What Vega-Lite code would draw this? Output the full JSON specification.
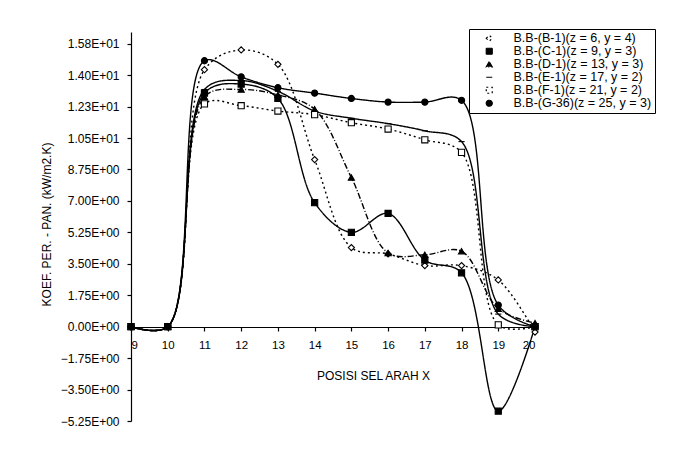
{
  "$schema": "https://vega.github.io/schema/vega-lite/v6.json",
  "width": 404,
  "height": 389,
  "autosize": {"type": "none"},
  "padding": {"left": 131, "top": 32, "right": 149, "bottom": 29},
  "background": "white",
  "config": {
    "font": "Liberation Sans",
    "view": {"stroke": null},
    "axis": {"domainColor": "black", "tickColor": "black", "labelColor": "black", "titleColor": "black", "grid": false, "domainWidth": 1.2, "tickWidth": 1.2, "titleFontWeight": "normal"},
    "legend": {"orient": "none", "legendX": 338, "legendY": -3, "padding": 3, "strokeColor": "black", "fillColor": "white", "labelFontSize": 12.5, "labelColor": "black", "symbolSize": 36, "symbolOffset": 11, "labelOffset": 18, "rowPadding": 0, "symbolStrokeColor": "black", "symbolStrokeWidth": 1.2, "labelLimit": 300}
  },
  "data": {"values": [
    {"s": "B.B-(B-1)(z = 6, y = 4)", "x": 9, "y": 0},
    {"s": "B.B-(B-1)(z = 6, y = 4)", "x": 10, "y": 0},
    {"s": "B.B-(B-1)(z = 6, y = 4)", "x": 11, "y": 14.3},
    {"s": "B.B-(B-1)(z = 6, y = 4)", "x": 12, "y": 15.4},
    {"s": "B.B-(B-1)(z = 6, y = 4)", "x": 13, "y": 14.6},
    {"s": "B.B-(B-1)(z = 6, y = 4)", "x": 14, "y": 9.3},
    {"s": "B.B-(B-1)(z = 6, y = 4)", "x": 15, "y": 4.4},
    {"s": "B.B-(B-1)(z = 6, y = 4)", "x": 16, "y": 4.05},
    {"s": "B.B-(B-1)(z = 6, y = 4)", "x": 17, "y": 3.4},
    {"s": "B.B-(B-1)(z = 6, y = 4)", "x": 18, "y": 3.4},
    {"s": "B.B-(B-1)(z = 6, y = 4)", "x": 19, "y": 2.6},
    {"s": "B.B-(B-1)(z = 6, y = 4)", "x": 20, "y": -0.3},
    {"s": "B.B-(C-1)(z = 9, y = 3)", "x": 9, "y": 0},
    {"s": "B.B-(C-1)(z = 9, y = 3)", "x": 10, "y": 0},
    {"s": "B.B-(C-1)(z = 9, y = 3)", "x": 11, "y": 13.0},
    {"s": "B.B-(C-1)(z = 9, y = 3)", "x": 12, "y": 13.5},
    {"s": "B.B-(C-1)(z = 9, y = 3)", "x": 13, "y": 12.7},
    {"s": "B.B-(C-1)(z = 9, y = 3)", "x": 14, "y": 6.9},
    {"s": "B.B-(C-1)(z = 9, y = 3)", "x": 15, "y": 5.25},
    {"s": "B.B-(C-1)(z = 9, y = 3)", "x": 16, "y": 6.3},
    {"s": "B.B-(C-1)(z = 9, y = 3)", "x": 17, "y": 3.7},
    {"s": "B.B-(C-1)(z = 9, y = 3)", "x": 18, "y": 3.0},
    {"s": "B.B-(C-1)(z = 9, y = 3)", "x": 19, "y": -4.7},
    {"s": "B.B-(C-1)(z = 9, y = 3)", "x": 20, "y": 0},
    {"s": "B.B-(D-1)(z = 13, y = 3)", "x": 9, "y": 0},
    {"s": "B.B-(D-1)(z = 13, y = 3)", "x": 10, "y": 0},
    {"s": "B.B-(D-1)(z = 13, y = 3)", "x": 11, "y": 12.8},
    {"s": "B.B-(D-1)(z = 13, y = 3)", "x": 12, "y": 13.2},
    {"s": "B.B-(D-1)(z = 13, y = 3)", "x": 13, "y": 12.9},
    {"s": "B.B-(D-1)(z = 13, y = 3)", "x": 14, "y": 12.1},
    {"s": "B.B-(D-1)(z = 13, y = 3)", "x": 15, "y": 8.3},
    {"s": "B.B-(D-1)(z = 13, y = 3)", "x": 16, "y": 4.1},
    {"s": "B.B-(D-1)(z = 13, y = 3)", "x": 17, "y": 4.0},
    {"s": "B.B-(D-1)(z = 13, y = 3)", "x": 18, "y": 4.2},
    {"s": "B.B-(D-1)(z = 13, y = 3)", "x": 19, "y": 1.0},
    {"s": "B.B-(D-1)(z = 13, y = 3)", "x": 20, "y": 0.2},
    {"s": "B.B-(E-1)(z = 17, y = 2)", "x": 9, "y": 0},
    {"s": "B.B-(E-1)(z = 17, y = 2)", "x": 10, "y": 0},
    {"s": "B.B-(E-1)(z = 17, y = 2)", "x": 11, "y": 13.2},
    {"s": "B.B-(E-1)(z = 17, y = 2)", "x": 12, "y": 13.7},
    {"s": "B.B-(E-1)(z = 17, y = 2)", "x": 13, "y": 13.1},
    {"s": "B.B-(E-1)(z = 17, y = 2)", "x": 14, "y": 12.0},
    {"s": "B.B-(E-1)(z = 17, y = 2)", "x": 15, "y": 11.6},
    {"s": "B.B-(E-1)(z = 17, y = 2)", "x": 16, "y": 11.3},
    {"s": "B.B-(E-1)(z = 17, y = 2)", "x": 17, "y": 10.9},
    {"s": "B.B-(E-1)(z = 17, y = 2)", "x": 18, "y": 10.3},
    {"s": "B.B-(E-1)(z = 17, y = 2)", "x": 19, "y": 0.7},
    {"s": "B.B-(E-1)(z = 17, y = 2)", "x": 20, "y": 0},
    {"s": "B.B-(F-1)(z = 21, y = 2)", "x": 9, "y": 0},
    {"s": "B.B-(F-1)(z = 21, y = 2)", "x": 10, "y": 0},
    {"s": "B.B-(F-1)(z = 21, y = 2)", "x": 11, "y": 12.4},
    {"s": "B.B-(F-1)(z = 21, y = 2)", "x": 12, "y": 12.3},
    {"s": "B.B-(F-1)(z = 21, y = 2)", "x": 13, "y": 12.0},
    {"s": "B.B-(F-1)(z = 21, y = 2)", "x": 14, "y": 11.8},
    {"s": "B.B-(F-1)(z = 21, y = 2)", "x": 15, "y": 11.35},
    {"s": "B.B-(F-1)(z = 21, y = 2)", "x": 16, "y": 11.0},
    {"s": "B.B-(F-1)(z = 21, y = 2)", "x": 17, "y": 10.4},
    {"s": "B.B-(F-1)(z = 21, y = 2)", "x": 18, "y": 9.7},
    {"s": "B.B-(F-1)(z = 21, y = 2)", "x": 19, "y": 0.1},
    {"s": "B.B-(F-1)(z = 21, y = 2)", "x": 20, "y": 0},
    {"s": "B.B-(G-36)(z = 25, y = 3)", "x": 9, "y": 0},
    {"s": "B.B-(G-36)(z = 25, y = 3)", "x": 10, "y": 0},
    {"s": "B.B-(G-36)(z = 25, y = 3)", "x": 11, "y": 14.8},
    {"s": "B.B-(G-36)(z = 25, y = 3)", "x": 12, "y": 13.9},
    {"s": "B.B-(G-36)(z = 25, y = 3)", "x": 13, "y": 13.3},
    {"s": "B.B-(G-36)(z = 25, y = 3)", "x": 14, "y": 13.0},
    {"s": "B.B-(G-36)(z = 25, y = 3)", "x": 15, "y": 12.7},
    {"s": "B.B-(G-36)(z = 25, y = 3)", "x": 16, "y": 12.5},
    {"s": "B.B-(G-36)(z = 25, y = 3)", "x": 17, "y": 12.5},
    {"s": "B.B-(G-36)(z = 25, y = 3)", "x": 18, "y": 12.6},
    {"s": "B.B-(G-36)(z = 25, y = 3)", "x": 19, "y": 1.2},
    {"s": "B.B-(G-36)(z = 25, y = 3)", "x": 20, "y": 0}
  ]},
  "encoding": {
    "x": {"field": "x", "type": "quantitative",
      "scale": {"domain": [9, 20], "nice": false, "zero": false},
      "axis": {"values": [9, 10, 11, 12, 13, 14, 15, 16, 17, 18, 19, 20], "format": "d", "offset": -94, "tickSize": 4, "labelPadding": 8, "labelFontSize": 11.5, "title": "POSISI SEL ARAH X", "titleFontSize": 12, "titleX": 242, "titleY": 48, "titleAlign": "center", "titleBaseline": "middle"}},
    "y": {"field": "y", "type": "quantitative",
      "scale": {"domain": [-5.25, 16.4], "nice": false, "zero": false},
      "axis": {"values": [-5.25, -3.5, -1.75, 0, 1.75, 3.5, 5.25, 7, 8.75, 10.5, 12.25, 14, 15.75],
        "labelExpr": "datum.value == 0 ? '0.00E+00' : format(datum.value / pow(10, floor(log(abs(datum.value)) / LN10)) + 1e-9, '.2f') + 'E' + (floor(log(abs(datum.value)) / LN10) < 0 ? '-' : '+') + '0' + abs(floor(log(abs(datum.value)) / LN10))",
        "tickSize": 4, "labelPadding": 8, "labelFontSize": 12, "title": "KOEF. PER. - PAN.  (kW/m2.K)", "titleFontSize": 12, "titleX": -85, "titleY": 192, "titleAngle": -90, "titleAlign": "center", "titleBaseline": "middle"}}
  },
  "layer": [
    {
      "mark": {"type": "line", "interpolate": "catmull-rom", "strokeWidth": 1.4, "color": "black"},
      "encoding": {
        "strokeDash": {"field": "s", "type": "nominal",
          "scale": {"domain": ["B.B-(B-1)(z = 6, y = 4)", "B.B-(C-1)(z = 9, y = 3)", "B.B-(D-1)(z = 13, y = 3)", "B.B-(E-1)(z = 17, y = 2)", "B.B-(F-1)(z = 21, y = 2)", "B.B-(G-36)(z = 25, y = 3)"],
            "range": [[2, 3], [1, 0], [6, 2, 1, 2], [1, 0], [2, 3], [1, 0]]},
          "legend": {"title": null, "encode": {"symbols": {"update": {"shape": {"signal": "'circle'"}}}}}
        }
      }
    },
    {
      "mark": {"type": "point", "filled": true, "stroke": "black", "strokeWidth": 1.1, "size": 38, "opacity": 1},
      "encoding": {
        "shape": {"field": "s", "type": "nominal",
          "scale": {"domain": ["B.B-(B-1)(z = 6, y = 4)", "B.B-(C-1)(z = 9, y = 3)", "B.B-(D-1)(z = 13, y = 3)", "B.B-(E-1)(z = 17, y = 2)", "B.B-(F-1)(z = 21, y = 2)", "B.B-(G-36)(z = 25, y = 3)"],
            "range": ["diamond", "square", "triangle-up", "M-1,0L1,0", "square", "circle"]},
          "legend": {"title": null, "encode": {"symbols": {"update": {"shape": {"signal": "'circle'"}}}}}
        },
        "fill": {"field": "s", "type": "nominal",
          "scale": {"domain": ["B.B-(B-1)(z = 6, y = 4)", "B.B-(C-1)(z = 9, y = 3)", "B.B-(D-1)(z = 13, y = 3)", "B.B-(E-1)(z = 17, y = 2)", "B.B-(F-1)(z = 21, y = 2)", "B.B-(G-36)(z = 25, y = 3)"],
            "range": ["white", "black", "black", "black", "white", "black"]},
          "legend": {"title": null}
        }
      }
    }
  ]
}
